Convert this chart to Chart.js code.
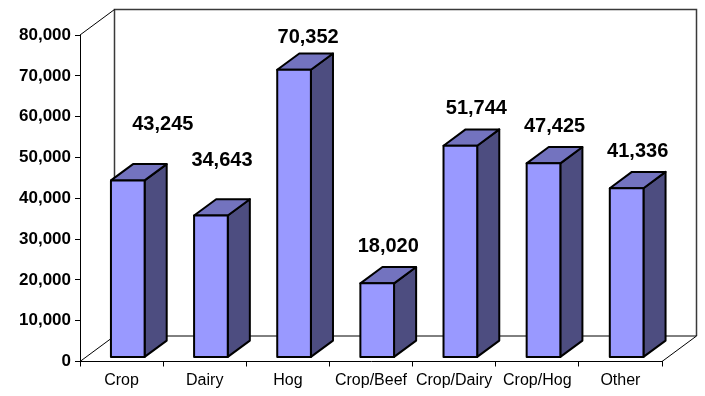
<!DOCTYPE html>
<html>
<head>
<meta charset="utf-8">
<script src="https://cdn.jsdelivr.net/npm/chart.js@4"></script>
<style>
  html, body { margin: 0; padding: 0; background: #fff; }
  #wrap { width: 705px; height: 396px; }
</style>
</head>
<body>
<div id="wrap"><canvas id="farms"></canvas></div>
<script>
const farmTypes = ['Crop', 'Dairy', 'Hog', 'Crop/Beef', 'Crop/Dairy', 'Crop/Hog', 'Other']
const farmValues = [43245, 34643, 70352, 18020, 51744, 47425, 41336]
const yTicks = [0, 10000, 20000, 30000, 40000, 50000, 60000, 70000, 80000]

const fmt = (v) => v.toLocaleString('en-US')

// fake 3d: walls + floor behind, boxes on top
const box3d = {
  id: 'box3d',
  beforeDatasetsDraw (chart, args, opts) {
    const { ctx, chartArea: a } = chart
    const dx = opts.depthX
    const dy = opts.depthY
    ctx.save()
    // back wall
    ctx.strokeStyle = '#3a3a3a'
    ctx.lineWidth = 1.5
    ctx.beginPath()
    ctx.moveTo(a.left + dx, a.bottom - dy)
    ctx.lineTo(a.left + dx, a.top - dy)
    ctx.lineTo(a.right + dx, a.top - dy)
    ctx.lineTo(a.right + dx, a.bottom - dy)
    ctx.stroke()
    // floor and side edges
    ctx.strokeStyle = '#000'
    ctx.lineWidth = 1
    ctx.beginPath()
    ctx.moveTo(a.left, a.top)
    ctx.lineTo(a.left + dx, a.top - dy)
    ctx.moveTo(a.left, a.bottom)
    ctx.lineTo(a.left + dx, a.bottom - dy)
    ctx.lineTo(a.right + dx, a.bottom - dy)
    ctx.lineTo(a.right, a.bottom)
    ctx.stroke()
    ctx.restore()
  },
  afterDatasetsDraw (chart, args, opts) {
    const { ctx } = chart
    const xs = chart.scales.x
    const ys = chart.scales.y
    const dx = opts.depthX
    const dy = opts.depthY
    const cw = (xs.right - xs.left) / farmTypes.length
    const w = cw * opts.widthFrac
    const fx = dx * opts.frontGap
    const fy = dy * opts.frontGap
    const bx = dx * opts.boxDepth
    const by = dy * opts.boxDepth
    ctx.save()
    ctx.lineJoin = 'round'
    ctx.lineWidth = 2
    ctx.strokeStyle = '#000'
    farmValues.forEach((v, i) => {
      const cx = xs.getPixelForValue(i) + fx
      const l = cx - w / 2
      const r = cx + w / 2
      const t = ys.getPixelForValue(v) - fy
      const b = ys.getPixelForValue(0) - fy

      const face = (pts, fill) => {
        ctx.beginPath()
        ctx.moveTo(pts[0][0], pts[0][1])
        pts.slice(1).forEach((p) => ctx.lineTo(p[0], p[1]))
        ctx.closePath()
        ctx.fillStyle = fill
        ctx.fill()
        ctx.stroke()
      }
      face([[r, t], [r + bx, t - by], [r + bx, b - by], [r, b]], opts.sideColor)
      face([[l, t], [r, t], [r + bx, t - by], [l + bx, t - by]], opts.topColor)
      face([[l, t], [r, t], [r, b], [l, b]], opts.frontColor)

      // value label above the box
      const n = opts.labelNudge[i] || [0, 0]
      ctx.fillStyle = '#000'
      ctx.font = 'bold 20px "Liberation Sans", Arial, sans-serif'
      ctx.textAlign = 'center'
      ctx.textBaseline = 'middle'
      ctx.fillText(fmt(v), cx + bx / 2 + n[0], t - 37 + n[1])
    })
    ctx.restore()
  }
}

new Chart(document.getElementById('farms').getContext('2d'), {
  type: 'bar',
  data: {
    labels: farmTypes,
    datasets: [{
      label: 'Farms',
      data: farmValues,
      backgroundColor: 'rgba(0,0,0,0)',
      borderWidth: 0
    }]
  },
  options: {
    responsive: true,
    maintainAspectRatio: false,
    animation: false,
    events: [],
    layout: {
      padding: { top: 35, right: 43, bottom: 0, left: 0 }
    },
    scales: {
      x: {
        afterFit: (s) => { s.height = 34.5 },
        grid: {
          offset: true,
          drawOnChartArea: false,
          tickLength: 5,
          color: '#000'
        },
        border: { color: '#000', width: 1 },
        ticks: {
          color: '#000',
          padding: 4,
          maxRotation: 0,
          font: { family: '"Liberation Sans", Arial, sans-serif', size: 16 }
        }
      },
      y: {
        min: 0,
        max: 80000,
        afterFit: (s) => { s.width = 80 },
        afterBuildTicks: (s) => { s.ticks = yTicks.map((v) => ({ value: v })) },
        grid: {
          drawOnChartArea: false,
          tickLength: 5,
          color: '#000'
        },
        border: { color: '#000', width: 1 },
        ticks: {
          color: '#000',
          padding: 4,
          callback: (v) => fmt(v),
          font: { family: '"Liberation Sans", Arial, sans-serif', size: 17, weight: 'bold' }
        }
      }
    },
    plugins: {
      legend: { display: false },
      tooltip: { enabled: false },
      box3d: {
        depthX: 34.5,
        depthY: 25.5,
        frontGap: 0.18,
        boxDepth: 0.64,
        widthFrac: 0.405,
        frontColor: '#9999ff',
        topColor: '#7373bf',
        sideColor: '#4d4d80',
        labelNudge: [[24, -19], [0, -18], [3, 5], [0, 0], [5, 0], [0, 0], [0, 0]]
      }
    }
  },
  plugins: [box3d]
})
</script>
</body>
</html>
